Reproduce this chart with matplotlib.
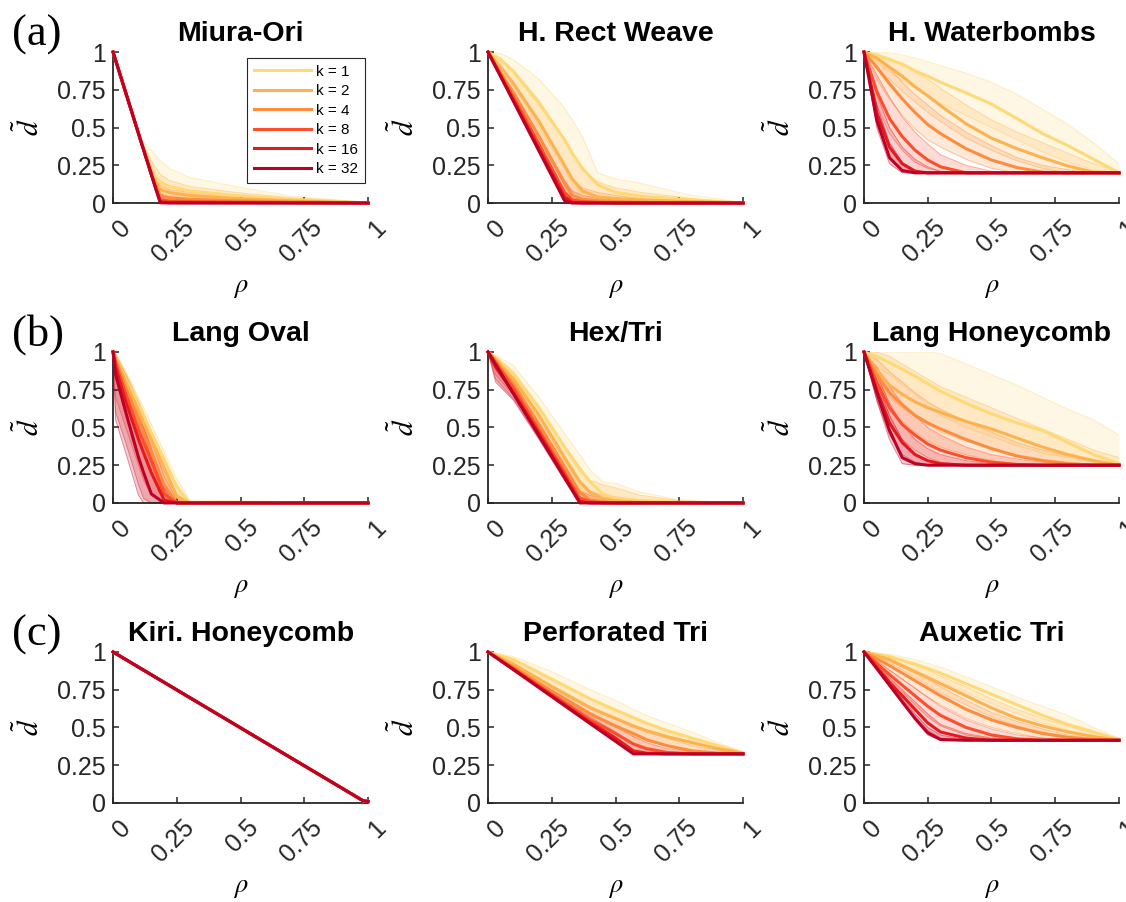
import matplotlib
matplotlib.use("Agg")
import matplotlib.pyplot as plt
from matplotlib.transforms import ScaledTranslation

plt.rcParams['font.family'] = ['Liberation Sans', 'DejaVu Sans']
plt.rcParams['mathtext.fontset'] = 'stix'

# ---- data ----
K_LABELS = ['k = 1', 'k = 2', 'k = 4', 'k = 8', 'k = 16', 'k = 32']
K_COLORS = ['#fed976', '#feb24c', '#fd8d3c', '#fc4e2a', '#e31a1c', '#bd0026']
TITLES = ['Miura-Ori', 'H. Rect Weave', 'H. Waterbombs',
          'Lang Oval', 'Hex/Tri', 'Lang Honeycomb',
          'Kiri. Honeycomb', 'Perforated Tri', 'Auxetic Tri']
TICKS = [0, 0.25, 0.5, 0.75, 1]
TICK_LABELS = ['0', '0.25', '0.5', '0.75', '1']

# rows: k = 1, 2, 4, 8, 16, 32  (mean curve, lower and upper edge of the thin lines)
MIURA_RHO = [0, 0.11, 0.16, 0.185, 0.22, 0.3, 0.48, 0.7, 1.0]
MIURA_MEAN = [[1, 0.41, 0.18, 0.14, 0.11, 0.08, 0.05, 0.025, 0],
              [1, 0.405, 0.16, 0.09, 0.07, 0.05, 0.03, 0.015, 0],
              [1, 0.405, 0.145, 0.05, 0.035, 0.025, 0.015, 0.008, 0],
              [1, 0.405, 0.14, 0.02, 0.012, 0.01, 0.006, 0.003, 0],
              [1, 0.405, 0.135, 0.008, 0.004, 0.003, 0.002, 0.001, 0],
              [1, 0.405, 0.135, 0.002, 0, 0, 0, 0, 0]]
MIURA_LO = [[1, 0.405, 0.135, 0.04, 0.02, 0.01, 0.005, 0, 0],
            [1, 0.405, 0.135, 0.02, 0.01, 0, 0, 0, 0],
            [1, 0.405, 0.135, 0, 0, 0, 0, 0, 0],
            [1, 0.405, 0.135, 0, 0, 0, 0, 0, 0],
            [1, 0.405, 0.135, 0, 0, 0, 0, 0, 0],
            [1, 0.405, 0.135, 0, 0, 0, 0, 0, 0]]
MIURA_HI = [[1, 0.42, 0.33, 0.28, 0.23, 0.17, 0.11, 0.045, 0.005],
            [1, 0.41, 0.25, 0.19, 0.15, 0.11, 0.07, 0.035, 0.005],
            [1, 0.405, 0.2, 0.12, 0.09, 0.07, 0.045, 0.02, 0],
            [1, 0.405, 0.16, 0.06, 0.04, 0.03, 0.02, 0.01, 0],
            [1, 0.405, 0.14, 0.03, 0.02, 0.01, 0.005, 0.003, 0],
            [1, 0.405, 0.135, 0.01, 0.005, 0, 0, 0, 0]]

WEAVE_RHO = [0, 0.05, 0.1, 0.2, 0.3, 0.33, 0.37, 0.43, 0.5, 0.6, 0.8, 1.0]
WEAVE_MEAN = [[1, 0.95, 0.87, 0.66, 0.42, 0.33, 0.23, 0.12, 0.07, 0.045, 0.02, 0],
              [1, 0.9, 0.79, 0.54, 0.25, 0.16, 0.08, 0.04, 0.03, 0.02, 0.01, 0],
              [1, 0.86, 0.73, 0.44, 0.13, 0.05, 0.025, 0.015, 0.01, 0.005, 0, 0],
              [1, 0.85, 0.70, 0.39, 0.07, 0.02, 0.01, 0.005, 0, 0, 0, 0],
              [1, 0.84, 0.68, 0.36, 0.04, 0.005, 0, 0, 0, 0, 0, 0],
              [1, 0.836, 0.672, 0.344, 0.016, 0, 0, 0, 0, 0, 0, 0]]
WEAVE_LO = [[1, 0.9, 0.78, 0.5, 0.22, 0.12, 0.06, 0.03, 0.02, 0.01, 0, 0],
            [1, 0.87, 0.73, 0.44, 0.14, 0.07, 0.03, 0.01, 0, 0, 0, 0],
            [1, 0.845, 0.69, 0.38, 0.06, 0.02, 0, 0, 0, 0, 0, 0],
            [1, 0.84, 0.675, 0.35, 0.03, 0, 0, 0, 0, 0, 0, 0],
            [1, 0.836, 0.672, 0.344, 0.016, 0, 0, 0, 0, 0, 0, 0],
            [1, 0.836, 0.672, 0.344, 0.016, 0, 0, 0, 0, 0, 0, 0]]
WEAVE_HI = [[1, 0.99, 0.95, 0.82, 0.63, 0.55, 0.44, 0.2, 0.16, 0.13, 0.05, 0.005],
            [1, 0.95, 0.88, 0.68, 0.42, 0.33, 0.22, 0.14, 0.1, 0.07, 0.03, 0],
            [1, 0.9, 0.8, 0.53, 0.25, 0.16, 0.1, 0.07, 0.05, 0.03, 0.01, 0],
            [1, 0.87, 0.74, 0.45, 0.15, 0.08, 0.05, 0.03, 0.02, 0.01, 0, 0],
            [1, 0.85, 0.7, 0.39, 0.08, 0.03, 0.02, 0.01, 0.005, 0, 0, 0],
            [1, 0.84, 0.68, 0.36, 0.03, 0.01, 0, 0, 0, 0, 0, 0]]

BOMB_RHO = [0, 0.05, 0.1, 0.15, 0.2, 0.25, 0.3, 0.4, 0.5, 0.6, 0.7, 0.8, 0.9, 1.0]
BOMB_MEAN = [[1, 0.975, 0.95, 0.92, 0.875, 0.84, 0.80, 0.73, 0.655, 0.56, 0.46, 0.38, 0.29, 0.2],
             [1, 0.96, 0.9, 0.84, 0.77, 0.71, 0.645, 0.525, 0.43, 0.36, 0.30, 0.245, 0.205, 0.2],
             [1, 0.9, 0.79, 0.69, 0.6, 0.52, 0.46, 0.36, 0.285, 0.235, 0.205, 0.2, 0.2, 0.2],
             [1, 0.74, 0.56, 0.44, 0.35, 0.285, 0.24, 0.2, 0.2, 0.2, 0.2, 0.2, 0.2, 0.2],
             [1, 0.6, 0.37, 0.26, 0.21, 0.2, 0.2, 0.2, 0.2, 0.2, 0.2, 0.2, 0.2, 0.2],
             [1, 0.55, 0.3, 0.215, 0.2, 0.2, 0.2, 0.2, 0.2, 0.2, 0.2, 0.2, 0.2, 0.2]]
BOMB_LO = [[1, 0.93, 0.87, 0.81, 0.76, 0.71, 0.66, 0.58, 0.5, 0.42, 0.34, 0.27, 0.22, 0.2],
           [1, 0.9, 0.82, 0.74, 0.67, 0.6, 0.54, 0.43, 0.35, 0.28, 0.23, 0.2, 0.2, 0.2],
           [1, 0.82, 0.69, 0.58, 0.49, 0.42, 0.37, 0.29, 0.23, 0.2, 0.2, 0.2, 0.2, 0.2],
           [1, 0.65, 0.46, 0.35, 0.27, 0.23, 0.21, 0.2, 0.2, 0.2, 0.2, 0.2, 0.2, 0.2],
           [1, 0.52, 0.3, 0.22, 0.2, 0.2, 0.2, 0.2, 0.2, 0.2, 0.2, 0.2, 0.2, 0.2],
           [1, 0.5, 0.26, 0.2, 0.2, 0.2, 0.2, 0.2, 0.2, 0.2, 0.2, 0.2, 0.2, 0.2]]
BOMB_HI = [[1, 1, 0.995, 0.98, 0.96, 0.935, 0.91, 0.86, 0.8, 0.72, 0.62, 0.52, 0.4, 0.26],
           [1, 0.99, 0.96, 0.92, 0.87, 0.82, 0.76, 0.65, 0.55, 0.47, 0.4, 0.33, 0.26, 0.21],
           [1, 0.96, 0.89, 0.8, 0.72, 0.65, 0.58, 0.47, 0.38, 0.3, 0.25, 0.22, 0.2, 0.2],
           [1, 0.85, 0.7, 0.57, 0.47, 0.39, 0.32, 0.25, 0.21, 0.2, 0.2, 0.2, 0.2, 0.2],
           [1, 0.72, 0.5, 0.37, 0.29, 0.24, 0.21, 0.2, 0.2, 0.2, 0.2, 0.2, 0.2, 0.2],
           [1, 0.65, 0.4, 0.27, 0.22, 0.2, 0.2, 0.2, 0.2, 0.2, 0.2, 0.2, 0.2, 0.2]]

OVAL_RHO = [0, 0.01, 0.05, 0.1, 0.12, 0.15, 0.2, 0.25, 0.3, 1.0]
OVAL_MEAN = [[1, 0.965, 0.82, 0.64, 0.57, 0.46, 0.29, 0.11, 0, 0],
             [1, 0.96, 0.8, 0.61, 0.53, 0.42, 0.23, 0.04, 0, 0],
             [1, 0.95, 0.76, 0.55, 0.46, 0.34, 0.12, 0, 0, 0],
             [1, 0.93, 0.72, 0.48, 0.4, 0.28, 0.06, 0, 0, 0],
             [1, 0.9, 0.67, 0.42, 0.33, 0.2, 0.02, 0, 0, 0],
             [1, 0.85, 0.6, 0.3, 0.2, 0.06, 0, 0, 0, 0]]
OVAL_LO = [[1, 0.95, 0.78, 0.58, 0.5, 0.38, 0.2, 0.03, 0, 0],
           [1, 0.93, 0.75, 0.54, 0.46, 0.34, 0.14, 0, 0, 0],
           [1, 0.85, 0.65, 0.42, 0.33, 0.2, 0.02, 0, 0, 0],
           [1, 0.7, 0.5, 0.25, 0.15, 0.05, 0, 0, 0, 0],
           [1, 0.6, 0.4, 0.12, 0.03, 0, 0, 0, 0, 0],
           [1, 0.55, 0.33, 0.05, 0, 0, 0, 0, 0, 0]]
OVAL_HI = [[1, 0.99, 0.87, 0.7, 0.63, 0.52, 0.34, 0.16, 0.02, 0],
           [1, 0.99, 0.86, 0.68, 0.6, 0.48, 0.3, 0.1, 0, 0],
           [1, 0.98, 0.85, 0.66, 0.58, 0.46, 0.25, 0.06, 0, 0],
           [1, 0.98, 0.84, 0.64, 0.55, 0.42, 0.18, 0.02, 0, 0],
           [1, 0.97, 0.82, 0.6, 0.5, 0.36, 0.12, 0, 0, 0],
           [1, 0.97, 0.8, 0.55, 0.45, 0.3, 0.1, 0, 0, 0]]

HEX_RHO = [0, 0.03, 0.1, 0.2, 0.3, 0.36, 0.4, 0.45, 0.5, 0.6, 0.75, 1.0]
HEX_MEAN = [[1, 0.96, 0.85, 0.63, 0.37, 0.22, 0.14, 0.06, 0.03, 0.015, 0.005, 0],
            [1, 0.95, 0.82, 0.58, 0.3, 0.14, 0.07, 0.03, 0.015, 0.005, 0, 0],
            [1, 0.94, 0.78, 0.52, 0.24, 0.07, 0.02, 0.01, 0, 0, 0, 0],
            [1, 0.93, 0.76, 0.48, 0.2, 0.03, 0.01, 0, 0, 0, 0, 0],
            [1, 0.9, 0.73, 0.46, 0.18, 0.01, 0, 0, 0, 0, 0, 0],
            [1, 0.917, 0.722, 0.444, 0.167, 0, 0, 0, 0, 0, 0, 0]]
HEX_LO = [[1, 0.92, 0.79, 0.55, 0.28, 0.1, 0.04, 0.01, 0, 0, 0, 0],
          [1, 0.9, 0.76, 0.5, 0.22, 0.05, 0.01, 0, 0, 0, 0, 0],
          [1, 0.88, 0.73, 0.46, 0.19, 0.02, 0, 0, 0, 0, 0, 0],
          [1, 0.85, 0.71, 0.44, 0.17, 0, 0, 0, 0, 0, 0, 0],
          [1, 0.82, 0.69, 0.43, 0.16, 0, 0, 0, 0, 0, 0, 0],
          [1, 0.8, 0.68, 0.42, 0.15, 0, 0, 0, 0, 0, 0, 0]]
HEX_HI = [[1, 0.98, 0.91, 0.7, 0.46, 0.32, 0.22, 0.14, 0.13, 0.07, 0.02, 0],
          [1, 0.97, 0.87, 0.64, 0.38, 0.24, 0.15, 0.12, 0.1, 0.05, 0.015, 0],
          [1, 0.96, 0.83, 0.58, 0.31, 0.14, 0.08, 0.05, 0.04, 0.02, 0.005, 0],
          [1, 0.95, 0.8, 0.53, 0.25, 0.08, 0.05, 0.03, 0.02, 0.01, 0, 0],
          [1, 0.94, 0.77, 0.49, 0.21, 0.04, 0.02, 0.01, 0, 0, 0, 0],
          [1, 0.93, 0.74, 0.46, 0.18, 0.01, 0, 0, 0, 0, 0, 0]]

LANG_RHO = [0, 0.05, 0.1, 0.15, 0.2, 0.25, 0.3, 0.4, 0.5, 0.6, 0.7, 0.8, 0.9, 1.0]
LANG_MEAN = [[1, 0.97, 0.93, 0.885, 0.84, 0.79, 0.74, 0.66, 0.59, 0.53, 0.48, 0.40, 0.32, 0.26],
             [1, 0.88, 0.78, 0.72, 0.67, 0.63, 0.6, 0.54, 0.49, 0.43, 0.37, 0.32, 0.28, 0.25],
             [1, 0.85, 0.73, 0.65, 0.58, 0.53, 0.49, 0.42, 0.36, 0.31, 0.28, 0.26, 0.25, 0.25],
             [1, 0.8, 0.63, 0.52, 0.45, 0.39, 0.35, 0.3, 0.27, 0.255, 0.25, 0.25, 0.25, 0.25],
             [1, 0.75, 0.53, 0.4, 0.32, 0.28, 0.26, 0.25, 0.25, 0.25, 0.25, 0.25, 0.25, 0.25],
             [1, 0.73, 0.48, 0.3, 0.26, 0.25, 0.25, 0.25, 0.25, 0.25, 0.25, 0.25, 0.25, 0.25]]
LANG_LO = [[1, 0.9, 0.85, 0.78, 0.72, 0.64, 0.58, 0.5, 0.44, 0.38, 0.33, 0.3, 0.27, 0.25],
           [1, 0.8, 0.7, 0.63, 0.57, 0.52, 0.47, 0.41, 0.36, 0.32, 0.29, 0.27, 0.255, 0.25],
           [1, 0.77, 0.63, 0.54, 0.47, 0.41, 0.37, 0.32, 0.28, 0.26, 0.25, 0.25, 0.25, 0.25],
           [1, 0.72, 0.53, 0.42, 0.35, 0.3, 0.27, 0.25, 0.25, 0.25, 0.25, 0.25, 0.25, 0.25],
           [1, 0.68, 0.45, 0.32, 0.27, 0.25, 0.25, 0.25, 0.25, 0.25, 0.25, 0.25, 0.25, 0.25],
           [1, 0.68, 0.42, 0.26, 0.25, 0.25, 0.25, 0.25, 0.25, 0.25, 0.25, 0.25, 0.25, 0.25]]
LANG_HI = [[1, 1, 1, 1, 1, 1, 0.99, 0.92, 0.85, 0.78, 0.7, 0.62, 0.55, 0.45],
           [1, 1, 0.97, 0.92, 0.87, 0.82, 0.77, 0.7, 0.63, 0.56, 0.49, 0.42, 0.35, 0.3],
           [1, 0.95, 0.87, 0.8, 0.73, 0.67, 0.62, 0.54, 0.47, 0.4, 0.35, 0.31, 0.28, 0.26],
           [1, 0.9, 0.77, 0.66, 0.58, 0.5, 0.45, 0.37, 0.32, 0.29, 0.27, 0.26, 0.25, 0.25],
           [1, 0.85, 0.66, 0.52, 0.42, 0.36, 0.32, 0.28, 0.26, 0.25, 0.25, 0.25, 0.25, 0.25],
           [1, 0.8, 0.58, 0.42, 0.33, 0.28, 0.26, 0.25, 0.25, 0.25, 0.25, 0.25, 0.25, 0.25]]

KIRI_RHO = [0, 0.98, 1.0]
KIRI_MEAN = [[1, 0.015, 0.01]] * 6
KIRI_LO = KIRI_MEAN
KIRI_HI = KIRI_MEAN

PERF_RHO = [0, 0.1, 0.25, 0.4, 0.5, 0.57, 0.62, 0.7, 0.8, 0.9, 1.0]
PERF_MEAN = [[1, 0.95, 0.82, 0.69, 0.615, 0.565, 0.53, 0.48, 0.43, 0.38, 0.33],
             [1, 0.92, 0.77, 0.63, 0.56, 0.51, 0.48, 0.44, 0.4, 0.36, 0.33],
             [1, 0.9, 0.74, 0.59, 0.51, 0.46, 0.42, 0.38, 0.345, 0.33, 0.325],
             [1, 0.89, 0.72, 0.55, 0.46, 0.39, 0.36, 0.335, 0.325, 0.325, 0.325],
             [1, 0.885, 0.71, 0.535, 0.43, 0.345, 0.33, 0.325, 0.325, 0.325, 0.325],
             [1, 0.882, 0.704, 0.526, 0.408, 0.325, 0.325, 0.325, 0.325, 0.325, 0.325]]
PERF_LO = [[1, 0.92, 0.77, 0.63, 0.55, 0.5, 0.47, 0.43, 0.39, 0.36, 0.33],
           [1, 0.9, 0.74, 0.58, 0.5, 0.44, 0.41, 0.38, 0.35, 0.335, 0.325],
           [1, 0.89, 0.72, 0.56, 0.46, 0.4, 0.37, 0.34, 0.33, 0.325, 0.325],
           [1, 0.885, 0.71, 0.535, 0.43, 0.35, 0.33, 0.325, 0.325, 0.325, 0.325],
           [1, 0.882, 0.704, 0.526, 0.408, 0.325, 0.325, 0.325, 0.325, 0.325, 0.325],
           [1, 0.882, 0.704, 0.526, 0.408, 0.325, 0.325, 0.325, 0.325, 0.325, 0.325]]
PERF_HI = [[1, 0.97, 0.87, 0.75, 0.68, 0.62, 0.58, 0.53, 0.47, 0.4, 0.34],
           [1, 0.94, 0.82, 0.69, 0.62, 0.57, 0.53, 0.48, 0.43, 0.38, 0.33],
           [1, 0.92, 0.78, 0.64, 0.56, 0.51, 0.47, 0.43, 0.38, 0.35, 0.33],
           [1, 0.9, 0.75, 0.6, 0.51, 0.44, 0.4, 0.36, 0.34, 0.33, 0.325],
           [1, 0.89, 0.73, 0.57, 0.47, 0.39, 0.36, 0.335, 0.325, 0.325, 0.325],
           [1, 0.885, 0.71, 0.535, 0.42, 0.34, 0.33, 0.325, 0.325, 0.325, 0.325]]

AUX_RHO = [0, 0.1, 0.2, 0.25, 0.3, 0.4, 0.5, 0.6, 0.7, 0.8, 0.9, 1.0]
AUX_MEAN = [[1, 0.97, 0.92, 0.89, 0.86, 0.79, 0.72, 0.65, 0.58, 0.52, 0.47, 0.42],
            [1, 0.95, 0.87, 0.83, 0.79, 0.71, 0.63, 0.56, 0.51, 0.47, 0.44, 0.415],
            [1, 0.91, 0.81, 0.76, 0.71, 0.62, 0.55, 0.5, 0.46, 0.435, 0.42, 0.415],
            [1, 0.85, 0.71, 0.64, 0.58, 0.5, 0.45, 0.425, 0.415, 0.415, 0.415, 0.415],
            [1, 0.8, 0.62, 0.53, 0.47, 0.43, 0.415, 0.415, 0.415, 0.415, 0.415, 0.415],
            [1, 0.78, 0.56, 0.465, 0.42, 0.415, 0.415, 0.415, 0.415, 0.415, 0.415, 0.415]]
AUX_LO = [[1, 0.95, 0.88, 0.84, 0.8, 0.73, 0.66, 0.59, 0.53, 0.48, 0.44, 0.415],
          [1, 0.93, 0.83, 0.78, 0.73, 0.65, 0.57, 0.51, 0.47, 0.44, 0.42, 0.415],
          [1, 0.88, 0.76, 0.7, 0.65, 0.56, 0.5, 0.46, 0.43, 0.42, 0.415, 0.415],
          [1, 0.82, 0.65, 0.57, 0.51, 0.45, 0.425, 0.415, 0.415, 0.415, 0.415, 0.415],
          [1, 0.78, 0.57, 0.48, 0.43, 0.415, 0.415, 0.415, 0.415, 0.415, 0.415, 0.415],
          [1, 0.77, 0.55, 0.45, 0.415, 0.415, 0.415, 0.415, 0.415, 0.415, 0.415, 0.415]]
AUX_HI = [[1, 0.985, 0.95, 0.925, 0.9, 0.835, 0.77, 0.7, 0.64, 0.58, 0.5, 0.43],
          [1, 0.97, 0.91, 0.88, 0.84, 0.77, 0.69, 0.62, 0.56, 0.51, 0.46, 0.42],
          [1, 0.94, 0.86, 0.82, 0.77, 0.68, 0.6, 0.54, 0.49, 0.45, 0.43, 0.415],
          [1, 0.88, 0.76, 0.7, 0.64, 0.55, 0.49, 0.45, 0.43, 0.42, 0.415, 0.415],
          [1, 0.83, 0.67, 0.59, 0.52, 0.46, 0.43, 0.42, 0.415, 0.415, 0.415, 0.415],
          [1, 0.79, 0.59, 0.5, 0.45, 0.42, 0.415, 0.415, 0.415, 0.415, 0.415, 0.415]]

PANELS = [(MIURA_RHO, MIURA_MEAN, MIURA_LO, MIURA_HI),
          (WEAVE_RHO, WEAVE_MEAN, WEAVE_LO, WEAVE_HI),
          (BOMB_RHO, BOMB_MEAN, BOMB_LO, BOMB_HI),
          (OVAL_RHO, OVAL_MEAN, OVAL_LO, OVAL_HI),
          (HEX_RHO, HEX_MEAN, HEX_LO, HEX_HI),
          (LANG_RHO, LANG_MEAN, LANG_LO, LANG_HI),
          (KIRI_RHO, KIRI_MEAN, KIRI_LO, KIRI_HI),
          (PERF_RHO, PERF_MEAN, PERF_LO, PERF_HI),
          (AUX_RHO, AUX_MEAN, AUX_LO, AUX_HI)]

# ---- figure ----
fig = plt.figure(figsize=(11.26, 9.02), dpi=100)
lefts = [0.1004, 0.4334, 0.7673]
bottoms = [0.7749, 0.4424, 0.1098]
w, h = 0.2265, 0.1674
axis_col = '#262626'
shift = ScaledTranslation(0.14, 0, fig.dpi_scale_trans)

for i, (rho, mean, lo, hi) in enumerate(PANELS):
    ax = fig.add_axes([lefts[i % 3], bottoms[i // 3], w, h])
    # spread of the individual runs: translucent band plus faint edge lines
    for j in range(6):
        ax.fill_between(rho, lo[j], hi[j], color=K_COLORS[j], alpha=0.2,
                        linewidth=0, zorder=1 + j * 0.1)
        ax.plot(rho, lo[j], color=K_COLORS[j], lw=0.7, alpha=0.45, zorder=1.05 + j * 0.1)
        ax.plot(rho, hi[j], color=K_COLORS[j], lw=0.7, alpha=0.45, zorder=1.05 + j * 0.1)
    handles = []
    for j in range(6):
        ln, = ax.plot(rho, mean[j], color=K_COLORS[j], lw=2.2,
                      label=K_LABELS[j], zorder=3 + j * 0.1, clip_on=False)
        handles.append(ln)

    ax.set_xlim(0, 1)
    ax.set_ylim(0, 1)
    ax.set_xticks(TICKS)
    ax.set_yticks(TICKS)
    ax.set_xticklabels(TICK_LABELS)
    ax.set_yticklabels(TICK_LABELS)
    for s in ['top', 'right']:
        ax.spines[s].set_visible(False)
    for s in ['left', 'bottom']:
        ax.spines[s].set_color(axis_col)
        ax.spines[s].set_linewidth(1.3)
        ax.spines[s].set_zorder(2)
    ax.tick_params(direction='in', length=4, width=1.1, colors=axis_col,
                   labelsize=18, pad=5)
    ax.tick_params(axis='x', pad=15)
    for t in ax.get_xticklabels():
        t.set_rotation(45)
        t.set_ha('right')
        t.set_va('center')
        t.set_rotation_mode('anchor')
        t.set_transform(t.get_transform() + shift)
    ax.set_title(TITLES[i], fontsize=20.5, fontweight='bold', pad=8)
    ax.set_xlabel(r'$\rho$', fontsize=19, labelpad=7)
    ax.set_ylabel(r'$\tilde{d}$', fontsize=21, labelpad=9)

    if i == 0:
        leg = ax.legend(handles=handles, loc='upper right',
                        bbox_to_anchor=(0.988, 0.962), borderaxespad=0,
                        fontsize=11, handlelength=3.7, handletextpad=0.35,
                        labelspacing=0.36, borderpad=0.45, fancybox=False,
                        framealpha=1, edgecolor=axis_col)
        leg.get_frame().set_linewidth(0.8)
        leg.set_zorder(10)

for lab, y in zip(['(a)', '(b)', '(c)'], [0.961, 0.629, 0.296]):
    fig.text(0.011, y, lab, fontsize=32, family='Liberation Serif',
             va='center', ha='left')

fig.savefig('out.png', dpi=100)
